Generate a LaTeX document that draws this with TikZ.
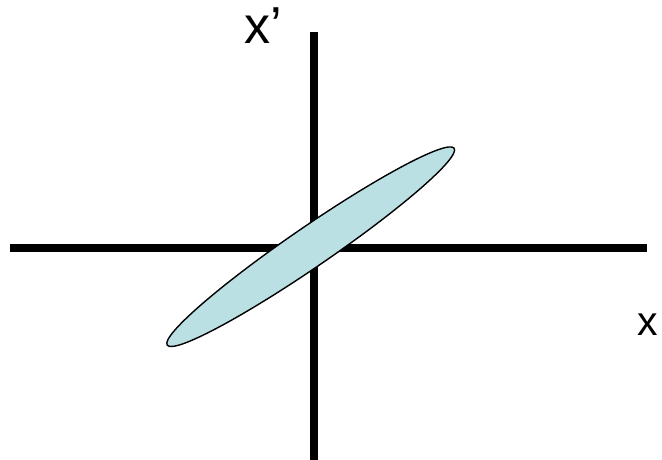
\documentclass[tikz,border=0pt]{standalone}
\usepackage{fontspec}
\setmainfont{Liberation Sans}
\usetikzlibrary{shapes.geometric}
\definecolor{ellfill}{RGB}{187,224,227}
\begin{document}
\begin{tikzpicture}[x=1pt,y=-1pt,
  axis/.style={line width=8pt,line cap=butt},
  lbl/.style={inner sep=0pt,anchor=base west}]
\useasboundingbox (0,0) rectangle (662,460);
\coordinate (hl) at (10,247.5);
\coordinate (hr) at (647,247.5);
\coordinate (vt) at (314.3,32);
\coordinate (vb) at (314.3,460);
\draw[axis] (hl) -- (hr);
\draw[axis] (vt) -- (vb);
\node[draw=black,line width=1.4pt,fill=ellfill,ellipse,minimum width=348pt,minimum height=40pt,inner sep=0pt,rotate=34.45] (ell) at (310.7,246.7) {};
\node[lbl,font=\fontsize{52}{52}\selectfont] (xp) at (244.5,44) {x’};
\node[lbl,font=\fontsize{41}{41}\selectfont] (x) at (637.5,335.5) {x};
\end{tikzpicture}
\end{document}
